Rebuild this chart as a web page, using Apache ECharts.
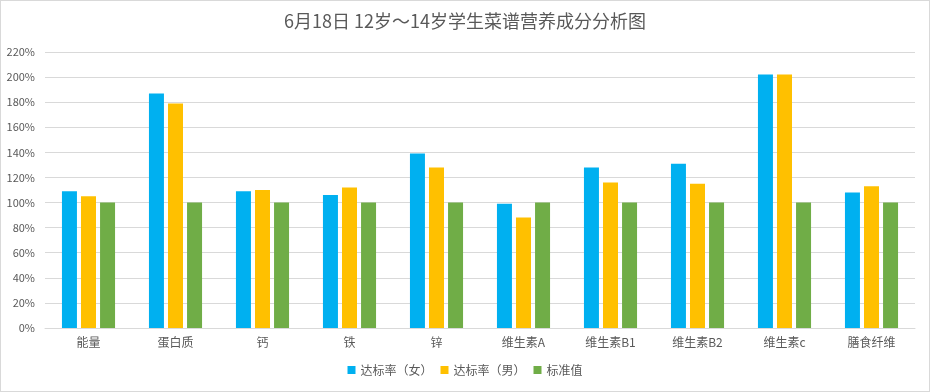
<!DOCTYPE html>
<html>
<head>
<meta charset="utf-8">
<script src="https://cdn.jsdelivr.net/npm/echarts@6/dist/echarts.min.js"></script>
<style>
html,body{margin:0;padding:0;background:#fff;}
#c{width:930px;height:392px;box-sizing:border-box;border:1px solid #d9d9d9;}
</style>
</head>
<body>
<div id="c"></div>
<script>
var categories = ['能量','蛋白质','钙','铁','锌','维生素A','维生素B1','维生素B2','维生素c','膳食纤维'];
var female = [109, 187, 109, 106, 139, 99, 128, 131, 202, 108];
var male = [105, 179, 110, 112, 128, 88, 116, 115, 202, 113];
var standard = [100, 100, 100, 100, 100, 100, 100, 100, 100, 100];
var seriesNames = ['达标率（女）','达标率（男）','标准值'];
var titleText = '6月18日 12岁～14岁学生菜谱营养成分分析图';

var font = '"Noto Sans CJK SC", "Microsoft YaHei", sans-serif';
var chart = echarts.init(document.getElementById('c'), null, {renderer:'canvas'});
chart.setOption({
  animation: false,
  textStyle: {fontFamily: font},
  title: {
    text: titleText, left: 'center', top: 6,
    textStyle: {fontSize: 18, fontWeight: 'normal', color: '#595959', fontFamily: font}
  },
  legend: {
    bottom: 10, left: 'center', itemWidth: 8, itemHeight: 8, itemGap: 8, icon: 'rect',
    textStyle: {fontSize: 12, color: '#595959', fontFamily: font},
    data: seriesNames
  },
  grid: {left: 44, right: 14, top: 51, bottom: 63},
  xAxis: {
    type: 'category', data: categories,
    axisLine: {lineStyle: {color: '#d9d9d9'}},
    axisTick: {show: false},
    axisLabel: {color: '#595959', fontSize: 12, margin: 8, fontFamily: font}
  },
  yAxis: {
    type: 'value', min: 0, max: 220, interval: 20,
    axisLine: {show: false}, axisTick: {show: false},
    splitLine: {lineStyle: {color: '#d9d9d9'}},
    axisLabel: {formatter: '{value}%', color: '#595959', fontSize: 11, margin: 10, fontFamily: font}
  },
  series: [
    {name: seriesNames[0], type: 'bar', data: female, barWidth: 15, barGap: '27%', itemStyle: {color: '#00b0f0'}},
    {name: seriesNames[1], type: 'bar', data: male, barWidth: 15, barGap: '27%', itemStyle: {color: '#ffc000'}},
    {name: seriesNames[2], type: 'bar', data: standard, barWidth: 15, barGap: '27%', itemStyle: {color: '#70ad47'}}
  ]
});
</script>
</body>
</html>
